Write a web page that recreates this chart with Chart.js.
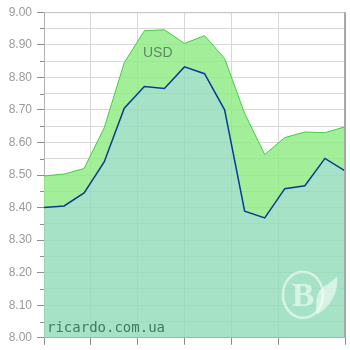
<!DOCTYPE html>
<html><head><meta charset="utf-8">
<script src="https://cdn.jsdelivr.net/npm/chart.js@4/dist/chart.umd.min.js"></script>
<style>html,body{margin:0;padding:0;background:#fff;}canvas{display:block;}</style>
</head><body>
<canvas id="c" width="350" height="350"></canvas>
<script>
// Day offsets of the samples (every 3 days)
const days = [0, 3, 6, 9, 12, 15, 18, 21, 24, 27, 30, 33, 36, 39, 42, 45];
// USD rate, lower series (blue line)
const usdLow  = [8.400, 8.405, 8.445, 8.540, 8.705, 8.772, 8.766, 8.832, 8.811, 8.700, 8.389, 8.368, 8.458, 8.467, 8.551, 8.513];
// USD rate, upper series (green line)
const usdHigh = [8.497, 8.503, 8.520, 8.645, 8.845, 8.943, 8.946, 8.904, 8.928, 8.858, 8.689, 8.563, 8.615, 8.632, 8.630, 8.648];
const seriesLabel = 'USD';
const watermark = 'ricardo.com.ua';
const yMin = 8.0, yMax = 9.0, yStep = 0.05;
const xMin = 0, xMax = 45, xStep = 7;

const toPts = (arr) => arr.map((v, i) => ({x: days[i], y: v}));

const decor = {
  id: 'decor',
  beforeDatasetsDraw(chart) {},
  afterDraw(chart) {
    const {ctx, chartArea: a, scales} = chart;
    const ys = scales.y, xs = scales.x;
    ctx.save();
    // minor ticks on the y axis
    ctx.strokeStyle = '#8c8c8c';
    ctx.lineWidth = 1;
    ys.ticks.forEach(t => {
      const isMajor = Math.round(t.value * 100) % 10 === 0;
      if (!isMajor) {
        const y = Math.round(ys.getPixelForValue(t.value)) + 0.5;
        ctx.beginPath(); ctx.moveTo(a.left - 4, y); ctx.lineTo(a.left, y); ctx.stroke();
      }
    });
    // frame
    ctx.strokeStyle = '#c4c4c4';
    ctx.beginPath(); ctx.moveTo(a.left, a.top + 0.5); ctx.lineTo(a.right, a.top + 0.5); ctx.stroke();
    ctx.strokeStyle = '#a8a8a8';
    ctx.lineWidth = 2;
    ctx.beginPath(); ctx.moveTo(a.right, a.top); ctx.lineTo(a.right, a.bottom); ctx.stroke();
    // series label
    ctx.fillStyle = '#5e8a5e';
    ctx.font = '14px "Liberation Sans", Arial, sans-serif';
    ctx.textAlign = 'center'; ctx.textBaseline = 'middle';
    ctx.fillText(seriesLabel, xs.getPixelForValue(17), ys.getPixelForValue(8.873));
    // watermark text
    ctx.fillStyle = '#3f7a5e';
    ctx.font = '14px "DejaVu Sans Mono", monospace';
    ctx.textAlign = 'left'; ctx.textBaseline = 'alphabetic';
    ctx.fillText(watermark, a.left + 3, a.bottom - 6);
    // logo
    const cx = a.right - 42, cy = a.bottom - 43;
    ctx.globalAlpha = 0.55;
    ctx.strokeStyle = '#ffffff'; ctx.fillStyle = '#ffffff';
    ctx.lineWidth = 2.5;
    ctx.beginPath(); ctx.ellipse(cx, cy, 20, 23, 0, 0, Math.PI * 2); ctx.stroke();
    ctx.font = 'bold 34px "Liberation Serif", serif';
    ctx.textAlign = 'center'; ctx.textBaseline = 'middle';
    ctx.fillText('B', cx, cy + 2);
    ctx.beginPath();
    ctx.moveTo(cx + 14, cy + 20);
    ctx.quadraticCurveTo(cx + 10, cy - 4, cx + 24, cy - 10);
    ctx.lineTo(cx + 34, cy - 18);
    ctx.quadraticCurveTo(cx + 36, cy + 6, cx + 14, cy + 20);
    ctx.fill();
    ctx.restore();
  }
};

new Chart(document.getElementById('c'), {
  type: 'line',
  data: {
    datasets: [
      {
        label: seriesLabel + ' low',
        data: toPts(usdLow),
        borderColor: '#0b3a96',
        borderWidth: 1.5,
        backgroundColor: 'rgba(146,221,186,0.82)',
        fill: 'start',
        pointRadius: 0,
        tension: 0
      },
      {
        label: seriesLabel + ' high',
        data: toPts(usdHigh),
        borderColor: '#3fcf3f',
        borderWidth: 1,
        backgroundColor: 'rgba(142,234,130,0.82)',
        fill: '-1',
        pointRadius: 0,
        tension: 0
      }
    ]
  },
  options: {
    responsive: false,
    animation: false,
    layout: {padding: {top: 9, right: 5, left: 0, bottom: 0}},
    plugins: {legend: {display: false}, tooltip: {enabled: false}},
    scales: {
      x: {
        type: 'linear', min: xMin, max: xMax,
        ticks: {display: false, stepSize: xStep},
        grid: {color: '#d8d8d8', tickColor: '#8c8c8c', tickLength: 7, drawTicks: true},
        border: {color: '#a0a0a0'}
      },
      y: {
        min: yMin, max: yMax,
        afterFit(scale) { scale.width = 44; },
        ticks: {
          stepSize: yStep, autoSkip: false, padding: 5,
          color: '#9a9a9a',
          font: {family: '"Liberation Sans", Arial, sans-serif', size: 12},
          callback: (v) => (Math.round(v * 100) % 10 === 0 ? Number(v).toFixed(2) : '')
        },
        grid: {
          color: '#d8d8d8', tickLength: 7, drawTicks: true,
          tickColor: (c) => (Math.round(c.tick.value * 100) % 10 === 0 ? '#8c8c8c' : 'rgba(0,0,0,0)')
        },
        border: {color: '#b0b0b0'}
      }
    }
  },
  plugins: [decor]
});
</script>
</body></html>
